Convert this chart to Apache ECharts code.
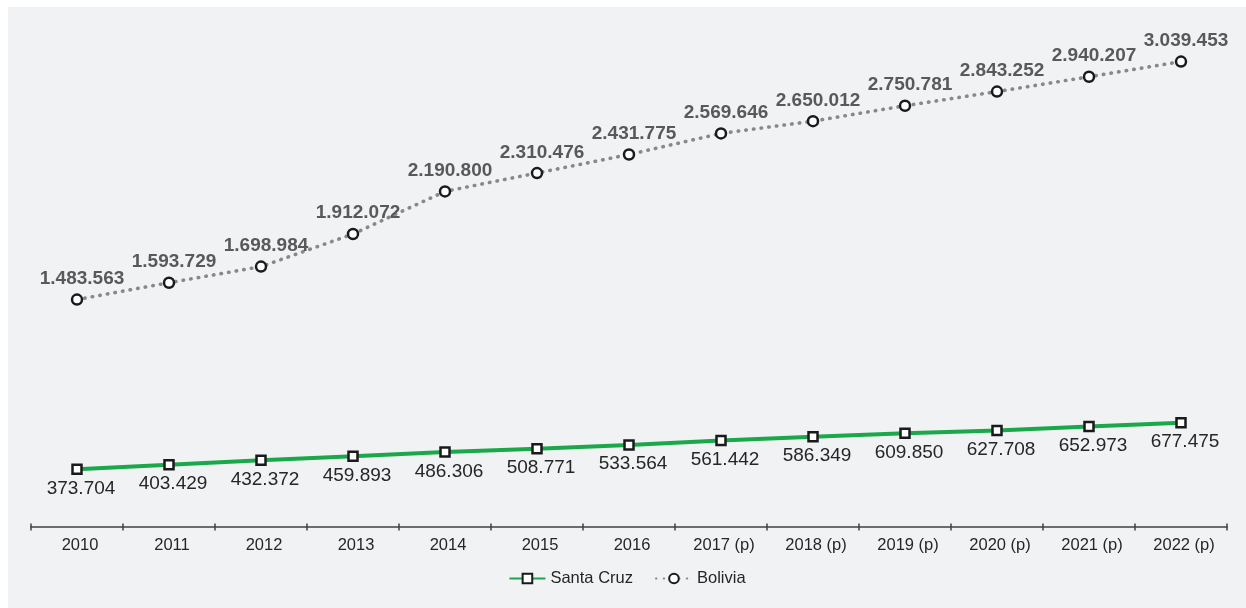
<!DOCTYPE html>
<html>
<head>
<meta charset="utf-8">
<script src="https://cdn.jsdelivr.net/npm/echarts@6/dist/echarts.min.js"></script>
<style>
html,body{margin:0;padding:0;width:1246px;height:608px;background:#ffffff;overflow:hidden;}
#chart{position:absolute;left:8px;top:7px;width:1238px;height:601px;background:#f1f2f4;}
</style>
</head>
<body>
<div id="chart"></div>
<script>
const categories = ['2010','2011','2012','2013','2014','2015','2016','2017 (p)','2018 (p)','2019 (p)','2020 (p)','2021 (p)','2022 (p)'];
const santaCruz = [373704,403429,432372,459893,486306,508771,533564,561442,586349,609850,627708,652973,677475];
const bolivia = [1483563,1593729,1698984,1912072,2190800,2310476,2431775,2569646,2650012,2750781,2843252,2940207,3039453];

function fmt(v){ return String(v).replace(/\B(?=(\d{3})+(?!\d))/g,'.'); }

const FF = 'Liberation Sans, Arial, sans-serif';
const chart = echarts.init(document.getElementById('chart'), null, {renderer:'canvas'});
chart.setOption({
  backgroundColor:'#f1f2f4',
  animation:false,
  textStyle:{fontFamily:FF},
  grid:{left:23,right:19,bottom:81.5,height:489.5},
  legend:{
    bottom:16,left:'center',
    itemWidth:36,itemHeight:12,itemGap:22,
    textStyle:{fontSize:16.5,color:'#262626',fontFamily:FF},
    data:['Santa Cruz','Bolivia']
  },
  xAxis:[{
    type:'category',data:categories,boundaryGap:true,
    axisLine:{show:true,lineStyle:{color:'#404040',width:1.5}},
    axisTick:{show:true,length:4,inside:false,lineStyle:{color:'#404040',width:1.5}},
    axisLabel:{fontSize:16.5,color:'#262626',margin:10,padding:[0,0,0,6],fontFamily:FF}
  },{
    type:'category',data:categories,boundaryGap:true,position:'bottom',
    axisLine:{show:false},
    axisTick:{show:true,length:3,inside:true,lineStyle:{color:'#404040',width:1.5}},
    axisLabel:{show:false}
  }],
  yAxis:{type:'value',min:0,max:3200000,show:false,splitLine:{show:false}},
  series:[
    {
      name:'Santa Cruz',type:'line',data:santaCruz,xAxisIndex:0,
      symbol:'rect',symbolSize:9,
      itemStyle:{color:'#ffffff',borderColor:'#1a1a1a',borderWidth:2.5},
      lineStyle:{color:'#1aa84a',width:4},
      label:{show:true,position:'bottom',distance:4,offset:[4,0],fontSize:19,color:'#262626',
        fontFamily:FF,formatter:p=>fmt(p.value)},
      z:3
    },
    {
      name:'Bolivia',type:'line',data:bolivia,xAxisIndex:0,
      symbol:'circle',symbolSize:10,
      itemStyle:{color:'#ffffff',borderColor:'#1a1a1a',borderWidth:2.5},
      lineStyle:{color:'#888888',width:3.6,type:[0.5,7.2],cap:'round'},
      label:{show:true,position:'top',distance:5,offset:[5,0],fontSize:19,fontWeight:'bold',color:'#595959',
        fontFamily:FF,formatter:p=>fmt(p.value)},
      z:3
    }
  ]
});
</script>
</body>
</html>
